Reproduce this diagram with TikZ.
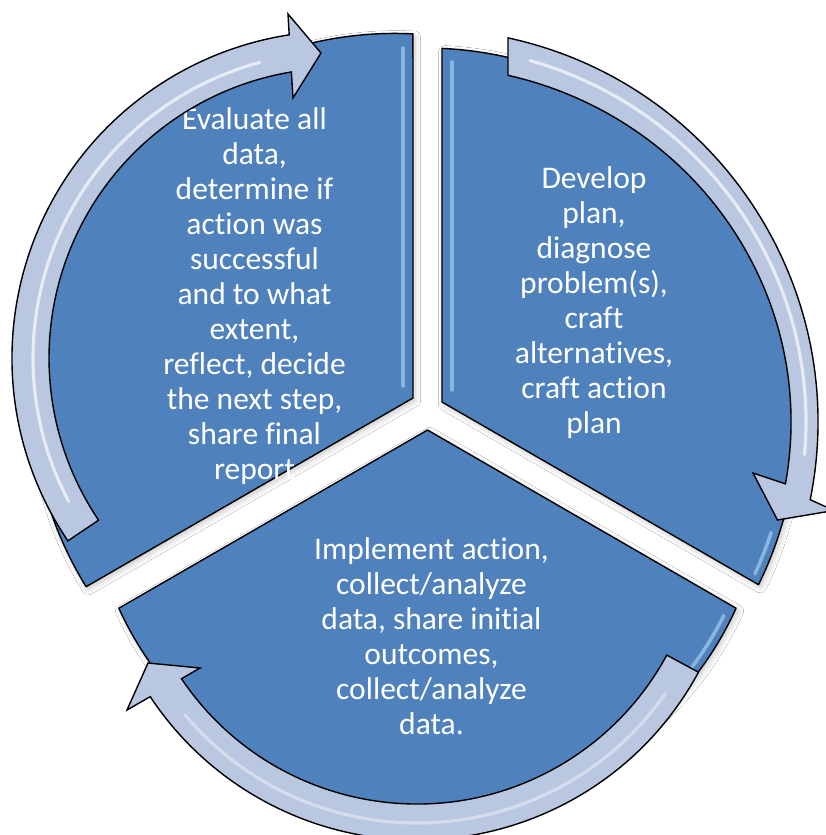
\documentclass[tikz,border=0pt]{standalone}
\usepackage{fontspec}
\setmainfont{Carlito}[Ligatures={NoCommon,NoContextual}]
\usetikzlibrary{shadows.blur}
\definecolor{secblue}{HTML}{4F81BD}
\definecolor{arrfill}{HTML}{B9C7E0}
\definecolor{hilite}{HTML}{B4D8FA}
\begin{document}
\begin{tikzpicture}[x=0.01cm, y=-0.01cm,
  segfill/.style={fill=secblue, draw=black, line width=0.4pt, line join=round,
    blur shadow={shadow xshift=0.6pt, shadow yshift=-0.8pt, shadow opacity=22, shadow blur radius=1.6pt}},
  arrowshape/.style={fill=arrfill, draw=black, line width=0.4pt, line join=miter},
  bevelline/.style={draw=hilite, line width=1.0pt, opacity=0.6, line cap=round},
  gleamline/.style={draw=white, line width=0.9pt, opacity=0.65, line cap=round},
  segtext/.style={text=white, align=center, inner sep=0pt, font=\fontsize{8.96}{9.96}\selectfont}]
\useasboundingbox (0,0) rectangle (826,835);
\clip (0,0) rectangle (826,835);
\fill[white] (0,0) rectangle (826,835);

% sectors
\draw[segfill] (413,398) -- (86.1,586.7) arc[start angle=148.27, end angle=272.92, radius=362.6] -- cycle;
\draw[segfill] (442,402) -- (442,48.4) arc[start angle=-87.38, end angle=26.28, radius=372] -- cycle;
\draw[segfill] (427.5,430) -- (736.1,608.2) arc[start angle=24.43, end angle=155.57, radius=339] -- cycle;

% bevel highlights
\draw[bevelline] (403,48) -- (403,386);
\draw[bevelline] (452,62) -- (452,390);
\draw[bevelline] ([shift={(425,420)}]18:364) arc[start angle=18, end angle=25, radius=364];
\draw[bevelline] ([shift={(427.5,468)}]26.5:331) arc[start angle=26.5, end angle=37, radius=331];

% texts
\node[segtext] (tltext) at (254.5,296.3) {Evaluate all\\data,\\determine if\\action was\\successful\\and to what\\extent,\\reflect, decide\\the next step,\\share final\\report};
\node[segtext] (trtext) at (594,302.8) {Develop\\plan,\\diagnose\\problem(s),\\craft\\alternatives,\\craft action\\plan};
\node[segtext] (btext) at (431.5,636.5) {Implement action,\\collect/analyze\\data, share initial\\outcomes,\\collect/analyze\\data.};

% circular arrows
\draw[arrowshape] ([shift={(339,358)}]146:327) arc[start angle=146, end angle=261.24, radius=327]
  -- (288,14) -- (321,53) -- (293,98)
  -- ([shift={(339,358)}]260.55:290) arc[start angle=260.55, end angle=146, radius=290] -- cycle;
\draw[arrowshape] ([shift={(425,422)}]-77.8:393) arc[start angle=-77.8, end angle=11.4, radius=393]
  -- (834,510.5) -- (777.5,520) -- (753,473)
  -- ([shift={(425,422)}]10:366 and 356) arc[start angle=10, end angle=-76.89, x radius=366, y radius=356] -- cycle;
\draw[arrowshape] ([shift={(417,520)}]28.4:320) arc[start angle=28.4, end angle=146.49, radius=320]
  -- (127,710) -- (148,663) -- (200,668)
  -- ([shift={(417,520)}]146.02:284) arc[start angle=146.02, end angle=28.4, radius=284] -- cycle;

% gleams on arrows
\draw[gleamline] ([shift={(339,358)}]152:306) arc[start angle=152, end angle=255, radius=306];
\draw[gleamline] ([shift={(425,422)}]-74:381 and 376) arc[start angle=-74, end angle=5, x radius=381, y radius=376];
\draw[gleamline, opacity=0.4] ([shift={(417,520)}]35:303) arc[start angle=35, end angle=140, radius=303];
\end{tikzpicture}
\end{document}
